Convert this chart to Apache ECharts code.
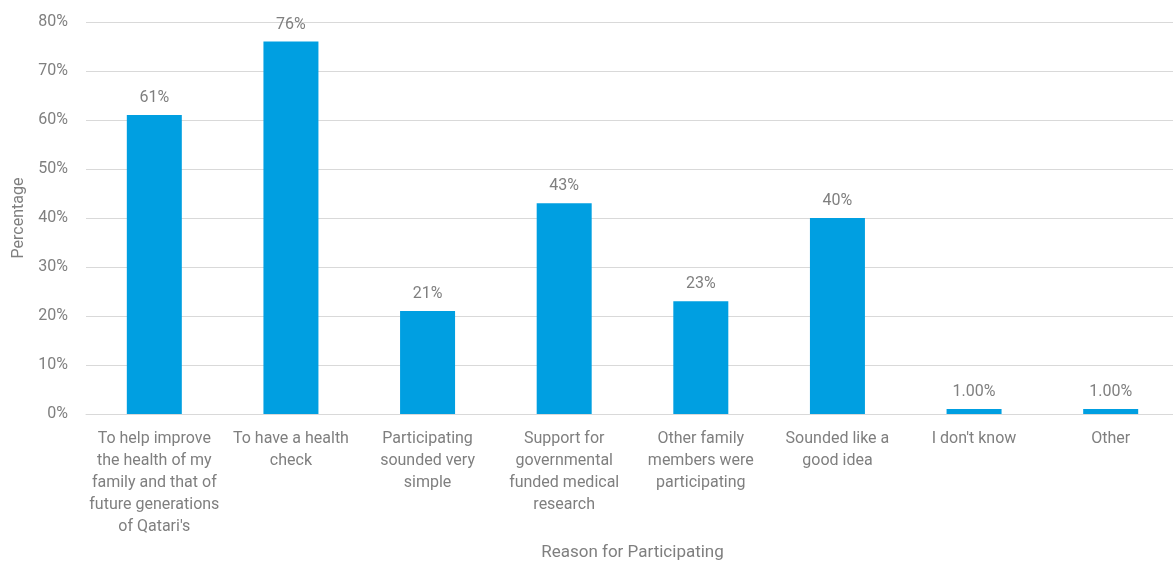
<!DOCTYPE html>
<html>
<head>
<meta charset="utf-8">
<script src="https://cdn.jsdelivr.net/npm/echarts@6/dist/echarts.min.js"></script>
<style>
  html, body { margin: 0; padding: 0; background: #fff; }
  #chart { width: 1173px; height: 563px; }
</style>
</head>
<body>
<div id="chart"></div>
<script>
// Reasons given for participating, with share of respondents (%)
const categories = [
  "To help improve\nthe health of my\nfamily and that of\nfuture generations\nof Qatari's",
  "To have a health\ncheck",
  "Participating\nsounded very\nsimple",
  "Support for\ngovernmental\nfunded medical\nresearch",
  "Other family\nmembers were\nparticipating",
  "Sounded like a\ngood idea",
  "I don't know",
  "Other"
];
const values = [61, 76, 21, 43, 23, 40, 1, 1];
const valueLabels = ["61%", "76%", "21%", "43%", "23%", "40%", "1.00%", "1.00%"];
const yTicks = [0, 10, 20, 30, 40, 50, 60, 70, 80];

const textColor = '#7f7f7f';
const fontFamily = 'Roboto, "Noto Sans", sans-serif';

const chart = echarts.init(document.getElementById('chart'));
chart.setOption({
  animation: false,
  grid: { left: 86, right: -6, top: 22, bottom: 149, outerBoundsMode: 'none', containLabel: false },
  xAxis: {
    type: 'category',
    data: categories,
    name: 'Reason for Participating',
    nameLocation: 'middle',
    nameGap: 130,
    nameTextStyle: { color: textColor, fontSize: 17, fontFamily },
    axisLine: { show: true, lineStyle: { color: '#d9d9d9', width: 1 } },
    axisTick: { show: false },
    axisLabel: {
      interval: 0,
      color: textColor,
      fontSize: 16,
      fontFamily,
      lineHeight: 22,
      margin: 14
    }
  },
  yAxis: {
    type: 'value',
    min: yTicks[0],
    max: yTicks[yTicks.length - 1],
    interval: 10,
    name: 'Percentage',
    nameLocation: 'middle',
    nameGap: 52,
    nameTextStyle: { color: textColor, fontSize: 16, fontFamily },
    axisLine: { show: false },
    axisTick: { show: false },
    axisLabel: {
      color: textColor,
      fontSize: 16,
      fontFamily,
      margin: 18,
      formatter: v => v + '%'
    },
    splitLine: { lineStyle: { color: '#d9d9d9', width: 1 } }
  },
  series: [{
    type: 'bar',
    data: values,
    barWidth: 55,
    itemStyle: { color: '#009fe1' },
    label: {
      show: true,
      position: 'top',
      distance: 9,
      color: textColor,
      fontSize: 16,
      fontFamily,
      formatter: p => valueLabels[p.dataIndex]
    }
  }]
});
</script>
</body>
</html>
